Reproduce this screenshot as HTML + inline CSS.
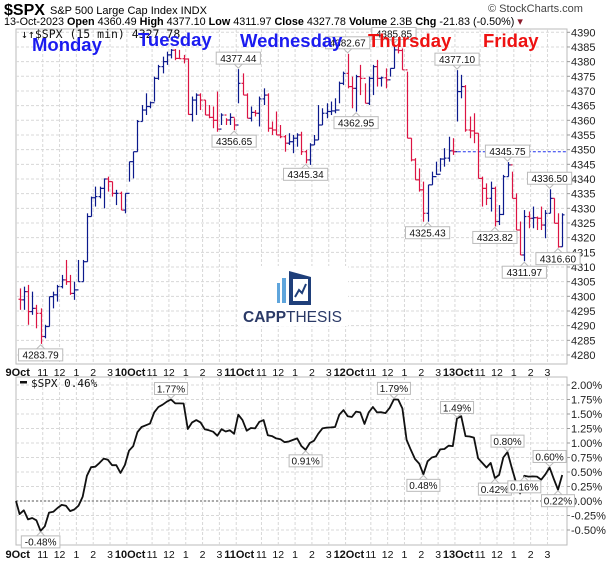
<!DOCTYPE html>
<html><head><meta charset="utf-8">
<style>
html,body{margin:0;padding:0;background:#fff;}
body{width:608px;height:566px;overflow:hidden;font-family:"Liberation Sans",Arial,sans-serif;}
svg{display:block;}
</style></head>
<body>
<svg id="chart" width="608" height="566" viewBox="0 0 608 566" xmlns="http://www.w3.org/2000/svg" font-family="Liberation Sans, Arial, sans-serif">
  <text x="4" y="15" font-size="16" font-weight="bold">$SPX</text>
  <text x="50" y="14" font-size="11">S&amp;P 500 Large Cap Index  INDX</text>
  <text x="488" y="12" font-size="11" fill="#444">© StockCharts.com</text>
  <text x="4" y="25" font-size="10.8">13-Oct-2023  <tspan font-weight="bold">Open</tspan> 4360.49  <tspan font-weight="bold">High</tspan> 4377.10  <tspan font-weight="bold">Low</tspan> 4311.97  <tspan font-weight="bold">Close</tspan> 4327.78  <tspan font-weight="bold">Volume</tspan> 2.3B  <tspan font-weight="bold">Chg</tspan> -21.83 (-0.50%) <tspan fill="#8b1a2a">▾</tspan></text>
  <g id="main"></g>
  <g id="pct"></g>
</svg>
<script>
const categories = ["9Oct","10Oct","11Oct","12Oct","13Oct"];
const hourLabels = ["11","12","1","2","3"];
const hourBars = [6,10,14,18,22];
const priceTicks = [4280,4285,4290,4295,4300,4305,4310,4315,4320,4325,4330,4335,4340,4345,4350,4355,4360,4365,4370,4375,4380,4385,4390];
const pctTicks = [-0.5,-0.25,0,0.25,0.5,0.75,1,1.25,1.5,1.75,2];
const firstOpen = 4299.0;
const baseClose = 4308.5;
const closes = [
4298.8,4301.6,4294.8,4295.9,4294.2,4286.3,4289.7,4299.9,4300.5,4303.3,4305.6,4305.0,4301.0,4302.2,4305.0,4311.8,4327.2,4333.6,4334.0,4336.8,4340.0,4339.1,4335.1,4335.1,4329.4,4335.1,
4345.9,4349.3,4359.6,4363.5,4364.7,4366.0,4374.3,4378.3,4380.0,4382.3,4383.9,4381.1,4381.0,4380.9,4362.0,4366.9,4368.6,4366.9,4361.8,4361.0,4360.0,4357.0,4361.8,4360.1,4361.0,4358.4,
4372.6,4368.6,4360.7,4362.7,4362.4,4367.3,4368.6,4357.3,4356.7,4355.0,4354.4,4352.2,4352.7,4353.9,4355.0,4349.3,4346.5,4351.6,4353.3,4358.4,4362.4,4363.0,4363.2,4363.5,4372.6,4376.0,
4371.5,4370.9,4374.9,4374.3,4365.8,4374.3,4378.3,4374.3,4374.5,4373.8,4377.7,4384.0,4383.8,4377.2,4353.9,4346.5,4339.7,4336.3,4328.3,4338.0,4340.8,4341.6,4346.8,4347.1,4349.6,4349.3,
4369.8,4371.5,4356.7,4356.4,4355.6,4340.2,4336.8,4333.4,4336.8,4325.5,4327.9,4340.8,4344.8,4333.4,4322.6,4314.1,4327.2,4326.6,4326.8,4326.6,4324.3,4328.3,4333.4,4324.9,4316.9,4327.78];
const highs = [
4302.7,4303.3,4303.9,4301.6,4297.1,4295.9,4290.3,4299.9,4301.6,4303.9,4307.3,4312.4,4307.3,4305.0,4312.4,4312.4,4328.3,4334.0,4337.4,4337.4,4340.2,4340.8,4339.1,4336.3,4335.7,4335.1,
4345.9,4349.3,4360.1,4365.2,4369.2,4366.4,4374.9,4378.9,4381.7,4383.4,4384.3,4384.3,4384.0,4382.3,4381.1,4368.1,4369.2,4369.2,4366.9,4365.2,4364.7,4369.8,4362.4,4360.7,4362.4,4360.7,
4377.44,4376.0,4369.2,4364.7,4363.5,4368.1,4370.9,4369.2,4359.6,4363.0,4358.4,4355.0,4355.6,4355.0,4355.6,4356.1,4349.9,4352.2,4355.0,4365.2,4364.1,4365.8,4366.4,4367.5,4373.2,4376.6,
4382.67,4374.9,4375.5,4378.9,4372.6,4374.9,4378.9,4380.6,4374.9,4377.7,4377.7,4385.85,4385.5,4384.5,4376.6,4353.9,4347.1,4343.6,4339.1,4338.0,4342.5,4345.9,4347.1,4350.5,4354.4,4353.9,
4377.1,4375.5,4372.0,4361.3,4362.4,4355.6,4340.8,4338.5,4339.1,4337.4,4331.1,4341.4,4345.75,4342.5,4335.1,4325.5,4329.4,4328.9,4330.6,4327.2,4330.6,4329.4,4336.5,4333.4,4328.3,4328.3];
const lows = [
4295.4,4295.4,4290.3,4293.7,4289.1,4283.79,4285.7,4289.7,4295.9,4298.2,4302.7,4303.9,4300.5,4298.8,4305.0,4305.0,4311.8,4327.2,4330.6,4333.4,4330.0,4335.7,4334.0,4331.1,4329.4,4328.3,
4339.1,4340.2,4349.3,4359.6,4361.8,4364.1,4366.4,4373.8,4376.0,4378.9,4381.1,4380.5,4381.1,4379.4,4361.9,4359.6,4361.8,4363.5,4361.8,4360.7,4357.3,4356.1,4358.4,4358.4,4358.4,4356.65,
4365.8,4368.6,4360.7,4359.6,4361.3,4357.9,4365.2,4356.1,4355.0,4355.0,4353.9,4349.3,4351.6,4348.8,4351.0,4348.2,4345.34,4344.8,4351.6,4353.3,4358.4,4360.7,4361.8,4362.4,4365.8,4372.0,
4370.9,4364.1,4362.95,4368.6,4365.8,4365.2,4368.6,4371.5,4371.5,4370.9,4374.9,4377.7,4382.8,4377.2,4353.9,4346.0,4339.7,4335.7,4325.43,4325.43,4338.0,4341.4,4342.5,4344.2,4345.9,4348.2,
4359.6,4367.5,4356.1,4353.9,4352.2,4340.2,4330.6,4331.1,4328.9,4323.82,4324.3,4327.7,4340.8,4333.4,4322.6,4314.1,4311.97,4323.2,4323.2,4322.6,4322.6,4319.8,4328.3,4324.9,4316.6,4316.9];
const priceLabels = [[5,"4283.79",0],[51,"4356.65",0],[52,"4377.44",1],[68,"4345.34",0],[78,"4382.67",1],[80,"4362.95",0],[89,"4385.85",1],[97,"4325.43",0],[104,"4377.10",1],[113,"4323.82",0],[116,"4345.75",1],[120,"4311.97",0],[126,"4336.50",1],[128,"4316.60",0]];
const pctLabels = [[5,"-0.48%",0],[36,"1.77%",1],[68,"0.91%",0],[89,"1.79%",1],[96,"0.48%",0],[104,"1.49%",1],[113,"0.42%",0],[116,"0.80%",1],[120,"0.16%",0],[126,"0.60%",1],[128,"0.22%",0]];
const dayNames = ["Monday","Tuesday","Wednesday","Thursday","Friday"];

const NS="http://www.w3.org/2000/svg";
const L=16,R=567,N=130,step=(R-L)/(N+1);
const xS=i=>L+(i+0.5)*step+1.5;
const MT=29,MB=364,pMin=4280,pMax=4390,yTop=32.3,yBot=355;
const yP=p=>yBot-(p-pMin)*(yBot-yTop)/(pMax-pMin);
const PT=377,PB=545;
const yQ=v=>501-v*58;
function mk(tag,attrs,parent,txt){const e=document.createElementNS(NS,tag);for(const k in attrs)e.setAttribute(k,attrs[k]);if(txt!==undefined)e.textContent=txt;parent.appendChild(e);return e;}
const main=document.getElementById('main'),pct=document.getElementById('pct');

function frameAndGrid(g,top,bot,ticks,yf,fmt,name){
  mk('rect',{x:L,y:top,width:R-L,height:bot-top,fill:'#fff',stroke:'#bbb'},g);
  ticks.forEach(t=>{
    const y=yf(t);
    const gl=mk('line',{x1:L,x2:R,y1:y,y2:y,stroke:'#d8d8d8','stroke-dasharray':'3,2'},g);
    
    
    mk('line',{x1:R,x2:R+3,y1:y,y2:y,stroke:'#999'},g);
    const tl=mk('text',{x:R+4,y:y+4,'font-size':'11',fill:'#222'},g,fmt(t));
    
    
  });
  for(let d=0;d<5;d++){
    [0].concat(hourBars).forEach(h=>{
      const x=xS(d*26+h)-step/2;
      if(d===0&&h===0)return;
      mk('line',{x1:x,x2:x,y1:top,y2:bot,stroke:'#d8d8d8','stroke-dasharray':'3,2'},g);
    });
  }
}
function xAxis(g,y){
  for(let d=0;d<5;d++){
    const x0=xS(d*26)-step/2;
    const dl=mk('text',{x:x0-12,y:y,'font-size':'11','font-weight':'bold',fill:'#111'},g,categories[d]);
    
    
    hourBars.forEach((h,k)=>{
      const hl=mk('text',{x:xS(d*26+h)-step/2,y:y,'font-size':'10.5','text-anchor':'middle',fill:'#111'},g,hourLabels[k]);
      
      
    });
  }
}
function callout(g,x,yAnchor,text,above){
  const w=text.length*5.6+5,h=12;
  const by=above?yAnchor-h-5:yAnchor+5;
  mk('path',{d:above?`M${x-4},${by+h} L${x},${yAnchor-1} L${x+4},${by+h}`:`M${x-4},${by} L${x},${yAnchor+1} L${x+4},${by}`,fill:'#fff',stroke:'#bbb'},g);
  const r=mk('rect',{x:x-w/2,y:by,width:w,height:h,fill:'#fff',stroke:'#bbb'},g);
  
  
  mk('text',{x:x,y:by+9.8,'font-size':'10','text-anchor':'middle',fill:'#111'},g,text);
}

frameAndGrid(main,MT,MB,priceTicks,yP,t=>String(t),'price');
const logo=mk('g',{},main);


mk('rect',{x:238,y:266,width:110,height:60,fill:'#fff'},logo);
mk('rect',{x:277,y:283,width:3,height:20,fill:'#5fa5dc'},logo);
mk('rect',{x:282,y:278,width:4,height:25,fill:'#5fa5dc'},logo);
mk('path',{d:'M289,271 L311,277 L311,305 L289,305 Z',fill:'#1f3f7a'},logo);
mk('rect',{x:293,y:279,width:15,height:22,fill:'#fff'},logo);
mk('path',{d:'M295,297 L299,290 L302,293 L306,284',stroke:'#1f3f7a','stroke-width':'2',fill:'none'},logo);
mk('text',{x:243,y:322,'font-size':'15.5',fill:'#2b3a67','font-weight':'bold'},logo,'CAPP');
mk('text',{x:286,y:322,'font-size':'15.5',fill:'#2b3a67'},logo,'THESIS');

const cl=mk('line',{x1:xS(103),x2:R,y1:yP(closes[103]),y2:yP(closes[103]),stroke:'#2233ee','stroke-dasharray':'3,2'},main);



for(let i=0;i<N;i++){
  const open=i===0?firstOpen:closes[i-1];
  const up=closes[i]>=open;
  const col=up?'#0c1a8c':'#dc1443';
  const x=Math.round(xS(i))+0.5;
  const b=mk('g',{stroke:col,'stroke-width':'1.2'},main);
  
  
  mk('line',{x1:x,x2:x,y1:yP(highs[i]),y2:yP(lows[i])},b);
  mk('line',{x1:x-2,x2:x,y1:yP(open),y2:yP(open)},b);
  mk('line',{x1:x,x2:x+2,y1:yP(closes[i]),y2:yP(closes[i])},b);
}
priceLabels.forEach(([i,t,a])=>callout(main,xS(i),a?yP(highs[i]):yP(lows[i]),t,a));

const lg=mk('text',{x:21,y:38,'font-size':'11.5',fill:'#111','font-family':'DejaVu Sans Mono, Liberation Mono, monospace'},main,'↓↑$SPX (15 min) 4327.78');


const dayX=[32,138,240,368,483],dayY=[51,46,47,47,47],dayC=['#1b1bf0','#1b1bf0','#1b1bf0','#ee1111','#ee1111'];
dayNames.forEach((n,k)=>{
  const t=mk('text',{x:dayX[k],y:dayY[k],'font-size':'18.5','font-weight':'bold',fill:dayC[k]},main,n);
  
  
});
xAxis(main,376);

frameAndGrid(pct,PT,PB,pctTicks,yQ,t=>t.toFixed(2)+'%','percent');
const zl=mk('line',{x1:L,x2:R,y1:yQ(0),y2:yQ(0),stroke:'#555','stroke-dasharray':'2,2'},pct);


let d=`M${L},${yQ(0)}`;
const pv=closes.map(c=>(c/baseClose-1)*100);
pv.forEach((v,i)=>{d+=` L${xS(i).toFixed(1)},${yQ(v).toFixed(1)}`;});
const pl=mk('path',{d:d,fill:'none',stroke:'#111','stroke-width':'1.8','stroke-linejoin':'round'},pct);


pctLabels.forEach(([i,t,a])=>callout(pct,xS(i),yQ(pv[i]),t,a));
mk('rect',{x:20,y:381,width:7,height:2.5,fill:'#111'},pct);
const pg=mk('text',{x:31,y:387,'font-size':'11',fill:'#111','font-family':'DejaVu Sans Mono, Liberation Mono, monospace'},pct,'$SPX 0.46%');


xAxis(pct,558);
</script>
</body></html>
